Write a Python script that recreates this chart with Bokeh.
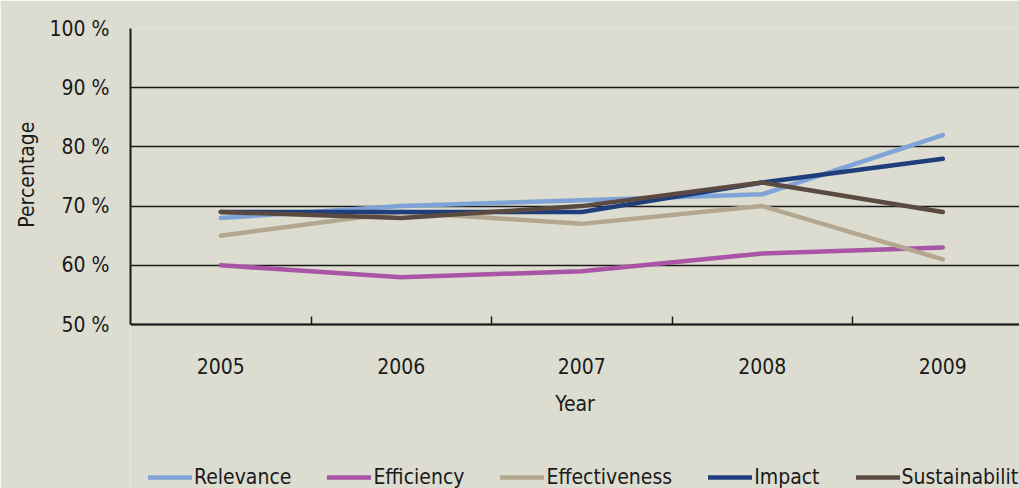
from bokeh.plotting import figure
from bokeh.models import Range1d, FixedTicker, PrintfTickFormatter, Legend, LegendItem, LinearAxis, Title
from bokeh.embed import file_html
from bokeh.resources import INLINE

years = [2005, 2006, 2007, 2008, 2009]
relevance = [68, 70, 71, 72, 82]
efficiency = [60, 58, 59, 62, 63]
effectiveness = [65, 69, 67, 70, 61]
impact = [69, 69, 69, 74, 78]
sustainability = [69, 68, 70, 74, 69]
y_ticks = [50, 60, 70, 80, 90, 100]
between_ticks = [2005.5, 2006.5, 2007.5, 2008.5]

series = [
    ("Relevance", relevance, "#7fa3d7"),
    ("Efficiency", efficiency, "#a855a5"),
    ("Effectiveness", effectiveness, "#b3a78f"),
    ("Impact", impact, "#1f3f7c"),
    ("Sustainability", sustainability, "#5b4a41"),
]

FONT = "'DejaVu Sans Condensed', 'Liberation Sans Narrow', Roboto"
BG = "#dcdcd0"
INK = "#1a1a1a"

# the frame spans down to the page bottom; the x axis is pinned at 50 %
p = figure(width=1019, height=488, output_backend="svg", toolbar_location=None,
           x_range=Range1d(2004.5, 2009.425), y_range=Range1d(22.3, 100),
           y_axis_location=None,
           min_border_left=130, min_border_right=0, min_border_top=28, min_border_bottom=0)
p.background_fill_color = BG
p.border_fill_color = BG
p.outline_line_color = None

p.xgrid.grid_line_color = None
p.ygrid.ticker = FixedTicker(ticks=y_ticks)
p.ygrid.grid_line_color = INK
p.ygrid.grid_line_width = 1.5

yaxis = LinearAxis(bounds=(50, 100), ticker=FixedTicker(ticks=y_ticks),
                   formatter=PrintfTickFormatter(format="%d %%"))
yaxis.axis_line_color = INK
yaxis.axis_line_width = 2
yaxis.major_tick_line_color = None
yaxis.minor_tick_line_color = None
yaxis.major_label_standoff = 15
yaxis.major_label_text_font = FONT
yaxis.major_label_text_font_size = "21px"
yaxis.major_label_text_color = INK
p.add_layout(yaxis, "left")

ytitle = Title(text="Percentage", align="right", offset=93, standoff=16,
               text_font=FONT, text_font_size="21px", text_font_style="normal",
               text_color=INK)
p.add_layout(ytitle, "left")

p.xaxis.fixed_location = 50
p.xaxis.ticker = FixedTicker(ticks=years, minor_ticks=between_ticks)
p.xaxis.axis_line_color = INK
p.xaxis.axis_line_width = 2
p.xaxis.major_tick_line_color = None
p.xaxis.minor_tick_line_color = INK
p.xaxis.minor_tick_line_width = 1.5
p.xaxis.minor_tick_in = 8
p.xaxis.minor_tick_out = 0
p.xaxis.major_label_standoff = 27
p.xaxis.major_label_text_font = FONT
p.xaxis.major_label_text_font_size = "21px"
p.xaxis.major_label_text_color = INK
p.xaxis.axis_label = "Year"
p.xaxis.axis_label_text_font = FONT
p.xaxis.axis_label_text_font_size = "21px"
p.xaxis.axis_label_text_font_style = "normal"
p.xaxis.axis_label_text_color = INK
p.xaxis.axis_label_standoff = 15

items = []
for name, vals, color in series:
    r = p.line(years, vals, line_color=color, line_width=4.5,
               line_cap="round", line_join="round")
    items.append(LegendItem(label=name, renderers=[r]))

legend = Legend(items=items, orientation="horizontal", location=(18, -1),
                background_fill_color=BG, background_fill_alpha=0.0,
                border_line_color=None, padding=4, margin=0,
                spacing=36, glyph_width=44, glyph_height=20, label_standoff=2,
                label_text_font=FONT, label_text_font_size="21px",
                label_text_color=INK)
p.add_layout(legend, "center")

open("out.html", "w").write(file_html(p, INLINE))
